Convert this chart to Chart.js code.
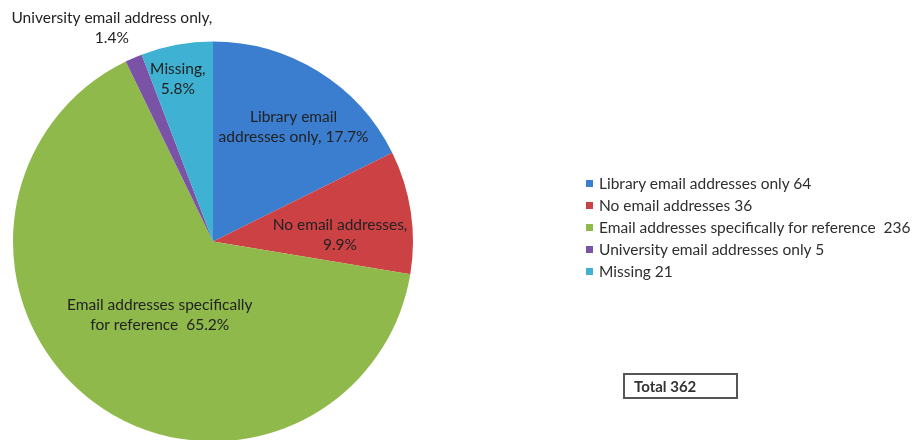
<!DOCTYPE html>
<html>
<head>
<meta charset="utf-8">
<script src="https://cdn.jsdelivr.net/npm/chart.js@4.4.0/dist/chart.umd.min.js"></script>
<style>
    body { margin: 0; width: 924px; height: 440px; overflow: hidden; background: #fff; font-family: Lato, 'Open Sans', sans-serif; }
    #wrap { position: absolute; left: 0; top: 0; width: 924px; height: 442px; }
    #legend { position: absolute; left: 586px; top: 172px; }
    .legend-row { height: 22px; display: flex; align-items: center; font-size: 15.5px; color: #2e2e2e; white-space: pre; }
    .swatch { width: 7px; height: 7px; margin-right: 6px; }
    #total { position: absolute; left: 623px; top: 373px; width: 102px; height: 22px; border: 2px solid #555;
             font-size: 15px; color: #333; font-weight: bold; line-height: 22px; padding-left: 9px; box-sizing: content-box; }
</style>
</head>
<body>
<div id="wrap"><canvas id="pieChart" width="924" height="442"></canvas></div>
<div id="legend"></div>
<div id="total"></div>
<script>
// Data
const categories = [
    'Library email addresses only',
    'No email addresses',
    'Email addresses specifically for reference ',
    'University email addresses only',
    'Missing'
];
const counts = [64, 36, 236, 5, 21];
const sliceColors = ['#3b7dcf', '#cc4244', '#8fb94b', '#7a52a6', '#3fb1d2'];
const total = counts.reduce((a, b) => a + b, 0);

// Label text per slice (percentages computed from counts)
const pct = v => (v / total * 100).toFixed(1) + '%';
const labelLines = [
    ['Library email', 'addresses only, ' + pct(counts[0])],
    ['No email addresses,', pct(counts[1])],
    ['Email addresses specifically', 'for reference  ' + pct(counts[2])],
    ['University email address only,', pct(counts[3])],
    ['Missing,', pct(counts[4])]
];
// Label placement: fraction of radius and angle nudge (degrees)
const labelRadius = [0.70, 0.636, 0.455, 1.18, 0.83];
const labelNudge = [3.3, 5.3, -1, -2, -1.8];
const lineHeight = 20;

// Slice labels plugin
const sliceLabels = {
    id: 'sliceLabels',
    afterDatasetsDraw(chart) {
        const ctx = chart.ctx;
        const meta = chart.getDatasetMeta(0);
        ctx.save();
        ctx.font = '15.5px Lato, "Open Sans", sans-serif';
        ctx.fillStyle = '#222';
        ctx.textAlign = 'center';
        ctx.textBaseline = 'middle';
        meta.data.forEach((arc, i) => {
            const p = arc.getProps(['x', 'y', 'startAngle', 'endAngle', 'outerRadius'], true);
            const mid = (p.startAngle + p.endAngle) / 2 + labelNudge[i] * Math.PI / 180;
            const r = p.outerRadius * labelRadius[i];
            const x = p.x + Math.cos(mid) * r;
            const y = p.y + Math.sin(mid) * r;
            const lines = labelLines[i];
            lines.forEach((line, j) => {
                ctx.fillText(line, x, y + (j - (lines.length - 1) / 2) * lineHeight);
            });
        });
        ctx.restore();
    }
};

// Chart
const ctx = document.getElementById('pieChart').getContext('2d');
new Chart(ctx, {
    type: 'pie',
    data: {
        labels: categories,
        datasets: [{
            data: counts,
            backgroundColor: sliceColors,
            borderWidth: 0
        }]
    },
    options: {
        responsive: false,
        animation: false,
        layout: { padding: { left: 13, top: 41, right: 511, bottom: 0 } },
        plugins: {
            legend: { display: false },
            tooltip: { enabled: false }
        }
    },
    plugins: [sliceLabels]
});

// Legend
const legend = document.getElementById('legend');
legend.innerHTML = categories.map((c, i) => `
    <div class="legend-row"><span class="swatch" style="background:${sliceColors[i]}"></span>${c} ${counts[i]}</div>
`).join('');

document.getElementById('total').textContent = 'Total ' + total;
</script>
</body>
</html>
